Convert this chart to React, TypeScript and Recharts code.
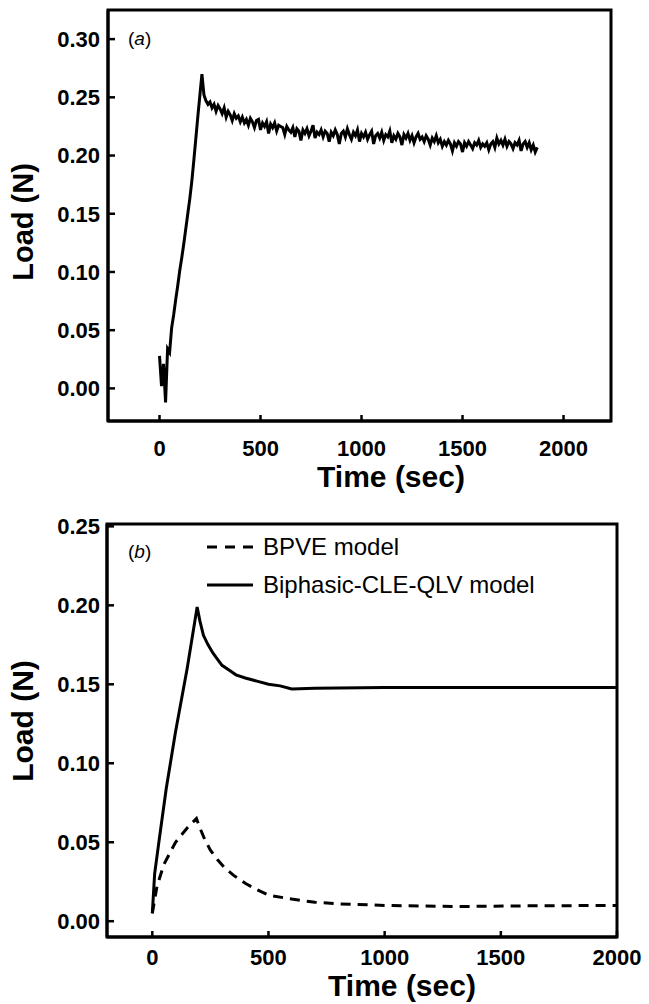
import React from 'react';
import { LineChart, Line, XAxis, YAxis, ReferenceArea } from 'recharts';

const FONT = '"Liberation Sans", Arial, Helvetica, sans-serif';

// panel (a): measured load, one sample every 10 s starting at t = 0
const TIME_STEP_A = 10;
const LOAD_A = [
  0.028, 0.002, 0.021, -0.012, 0.034, 0.031, 0.052, 0.063, 0.076, 0.088, 0.101,
  0.112, 0.124, 0.137, 0.150, 0.163, 0.178, 0.196, 0.215, 0.234, 0.252, 0.270,
  0.252, 0.247, 0.244, 0.246, 0.241, 0.244, 0.238, 0.243, 0.240,
  0.236, 0.241, 0.233, 0.238, 0.235, 0.230, 0.236, 0.232, 0.234, 0.229,
  0.233, 0.228, 0.231, 0.226, 0.232, 0.229, 0.224, 0.230, 0.231, 0.222,
  0.228, 0.225, 0.229, 0.219, 0.227, 0.224, 0.228, 0.221, 0.226, 0.225,
  0.224, 0.218, 0.225, 0.222, 0.220, 0.224, 0.216, 0.223, 0.221, 0.213,
  0.222, 0.219, 0.223, 0.217, 0.221, 0.226, 0.215, 0.220, 0.218, 0.222,
  0.216, 0.221, 0.219, 0.212, 0.220, 0.217, 0.222, 0.218, 0.210, 0.219,
  0.221, 0.216, 0.223, 0.218, 0.214, 0.220, 0.217, 0.222, 0.212, 0.219,
  0.216, 0.220, 0.214, 0.218, 0.221, 0.210, 0.217, 0.219, 0.215, 0.220,
  0.213, 0.218, 0.216, 0.221, 0.211, 0.217, 0.214, 0.219, 0.216, 0.209,
  0.218, 0.215, 0.219, 0.213, 0.217, 0.211, 0.216, 0.219, 0.214, 0.216,
  0.212, 0.217, 0.214, 0.209, 0.215, 0.212, 0.217, 0.211, 0.214, 0.208,
  0.212, 0.209, 0.213, 0.210, 0.204, 0.211, 0.208, 0.212, 0.210, 0.203,
  0.211, 0.208, 0.212, 0.209, 0.206, 0.211, 0.209, 0.213, 0.207, 0.210,
  0.208, 0.211, 0.205, 0.210, 0.212, 0.207, 0.215, 0.210, 0.213, 0.209,
  0.214, 0.208, 0.212, 0.210, 0.206, 0.211, 0.209, 0.213, 0.204, 0.210,
  0.212, 0.207, 0.211, 0.205, 0.209, 0.203, 0.207,
];

// panel (b): model predictions
const QLV_TIME = [0, 10, 30, 60, 100, 150, 193, 205, 220, 240, 260, 280, 300, 330, 360, 400, 450, 500, 550, 600, 700, 1000, 1500, 2000];
const QLV_LOAD = [0.005, 0.030, 0.052, 0.084, 0.120, 0.160, 0.199, 0.190, 0.181, 0.175, 0.170, 0.166, 0.162, 0.159, 0.156, 0.154, 0.152, 0.150, 0.149, 0.147, 0.1475, 0.148, 0.148, 0.148];

const BPVE_TIME = [0, 20, 50, 100, 150, 190, 205, 225, 250, 280, 310, 350, 400, 450, 500, 600, 700, 800, 1000, 1300, 1600, 2000];
const BPVE_LOAD = [0.005, 0.022, 0.036, 0.050, 0.059, 0.065, 0.059, 0.052, 0.045, 0.039, 0.034, 0.029, 0.024, 0.020, 0.0165, 0.014, 0.012, 0.011, 0.010, 0.0093, 0.0097, 0.010];

const X_TICKS = [0, 500, 1000, 1500, 2000];
const Y_TICKS_A = [0, 0.05, 0.1, 0.15, 0.2, 0.25, 0.3];
const Y_TICKS_B = [0, 0.05, 0.1, 0.15, 0.2, 0.25];

const X_DOMAIN_A: [number, number] = [-255, 2235];
const Y_DOMAIN_A: [number, number] = [-0.028, 0.325];
const X_DOMAIN_B: [number, number] = [-195, 2000];
const Y_DOMAIN_B: [number, number] = [-0.010, 0.2515];

const dataA = LOAD_A.map((v, i) => ({ t: i * TIME_STEP_A, v }));
const dataQlv = QLV_TIME.map((t, i) => ({ t, v: QLV_LOAD[i] }));
const dataBpve = BPVE_TIME.map((t, i) => ({ t, v: BPVE_LOAD[i] }));

const tickStyle = { fill: '#000', fontSize: 22, fontFamily: FONT, fontWeight: 'bold' };
const fmt = (v: number) => v.toFixed(2);

function xTitle(x: number, y: number, size: number) {
  return () => (
    <text x={x} y={y} textAnchor="middle" fontSize={size} fontFamily={FONT} fontWeight="bold" fill="#000">
      Time (sec)
    </text>
  );
}

function yTitle(x: number, y: number, size: number) {
  return () => (
    <text x={x} y={y} textAnchor="middle" fontSize={size} fontFamily={FONT} fontWeight="bold" fill="#000"
      transform={`rotate(-90 ${x} ${y})`}>
      Load (N)
    </text>
  );
}

export default function App() {
  return (
    <div style={{ position: 'absolute', left: 0, top: 0, width: 649, height: 1004, background: '#fff' }}>
      <div style={{ position: 'absolute', left: 0, top: 0 }}>
        <LineChart width={649} height={500} margin={{ top: 10, right: 38, left: 0, bottom: 0 }}>
          <XAxis dataKey="t" type="number" domain={X_DOMAIN_A} ticks={X_TICKS} interval={0}
            allowDataOverflow height={79} tick={tickStyle} tickSize={-6} tickMargin={25}
            axisLine={{ stroke: '#000', strokeWidth: 3 }} tickLine={{ stroke: '#000', strokeWidth: 2.5 }}
            label={{ content: xTitle(391, 487, 30) }} />
          <YAxis type="number" domain={Y_DOMAIN_A} ticks={Y_TICKS_A} interval={0} allowDataOverflow
            width={108} tick={tickStyle} tickFormatter={fmt} tickSize={-7} tickMargin={15}
            axisLine={{ stroke: '#000', strokeWidth: 3 }} tickLine={{ stroke: '#000', strokeWidth: 2.5 }}
            label={{ content: yTitle(33, 222, 29) }} />
          <ReferenceArea x1={X_DOMAIN_A[0]} x2={X_DOMAIN_A[1]} y1={Y_DOMAIN_A[0]} y2={Y_DOMAIN_A[1]}
            fill="none" stroke="#000" strokeWidth={3} />
          <Line data={dataA} dataKey="v" type="linear" stroke="#000" strokeWidth={3}
            dot={false} isAnimationActive={false} />
        </LineChart>
      </div>
      <div style={{ position: 'absolute', left: 0, top: 490 }}>
        <LineChart width={649} height={514} margin={{ top: 34, right: 32, left: 0, bottom: 0 }}>
          <XAxis dataKey="t" type="number" domain={X_DOMAIN_B} ticks={X_TICKS} interval={0}
            allowDataOverflow height={67} tick={tickStyle} tickSize={-6} tickMargin={18}
            axisLine={{ stroke: '#000', strokeWidth: 3 }} tickLine={{ stroke: '#000', strokeWidth: 2.5 }}
            label={{ content: xTitle(402, 506, 30) }} />
          <YAxis type="number" domain={Y_DOMAIN_B} ticks={Y_TICKS_B} interval={0} allowDataOverflow
            width={107} tick={tickStyle} tickFormatter={fmt} tickSize={-7} tickMargin={14}
            axisLine={{ stroke: '#000', strokeWidth: 3 }} tickLine={{ stroke: '#000', strokeWidth: 2.5 }}
            label={{ content: yTitle(33, 231, 30) }} />
          <ReferenceArea x1={X_DOMAIN_B[0]} x2={X_DOMAIN_B[1]} y1={Y_DOMAIN_B[0]} y2={Y_DOMAIN_B[1]}
            fill="none" stroke="#000" strokeWidth={3} />
          <Line data={dataBpve} dataKey="v" type="linear" stroke="#000" strokeWidth={3}
            strokeDasharray="10 7" dot={false} isAnimationActive={false} />
          <Line data={dataQlv} dataKey="v" type="linear" stroke="#000" strokeWidth={3}
            dot={false} isAnimationActive={false} />
        </LineChart>
      </div>
      {/* panel tags and legend */}
      <svg width={649} height={1004} style={{ position: 'absolute', left: 0, top: 0, pointerEvents: 'none' }}
        fontFamily={FONT} fill="#000">
        <text x={128} y={45} fontSize={19}>(<tspan fontStyle="italic">a</tspan>)</text>
        <text x={128} y={558} fontSize={19}>(<tspan fontStyle="italic">b</tspan>)</text>
        <line x1={207} x2={253} y1={547} y2={547} stroke="#000" strokeWidth={3} strokeDasharray="10 8" />
        <text x={263} y={555} fontSize={24}>BPVE model</text>
        <line x1={207} x2={253} y1={585} y2={585} stroke="#000" strokeWidth={3} />
        <text x={263} y={593} fontSize={24}>Biphasic-CLE-QLV model</text>
      </svg>
    </div>
  );
}
